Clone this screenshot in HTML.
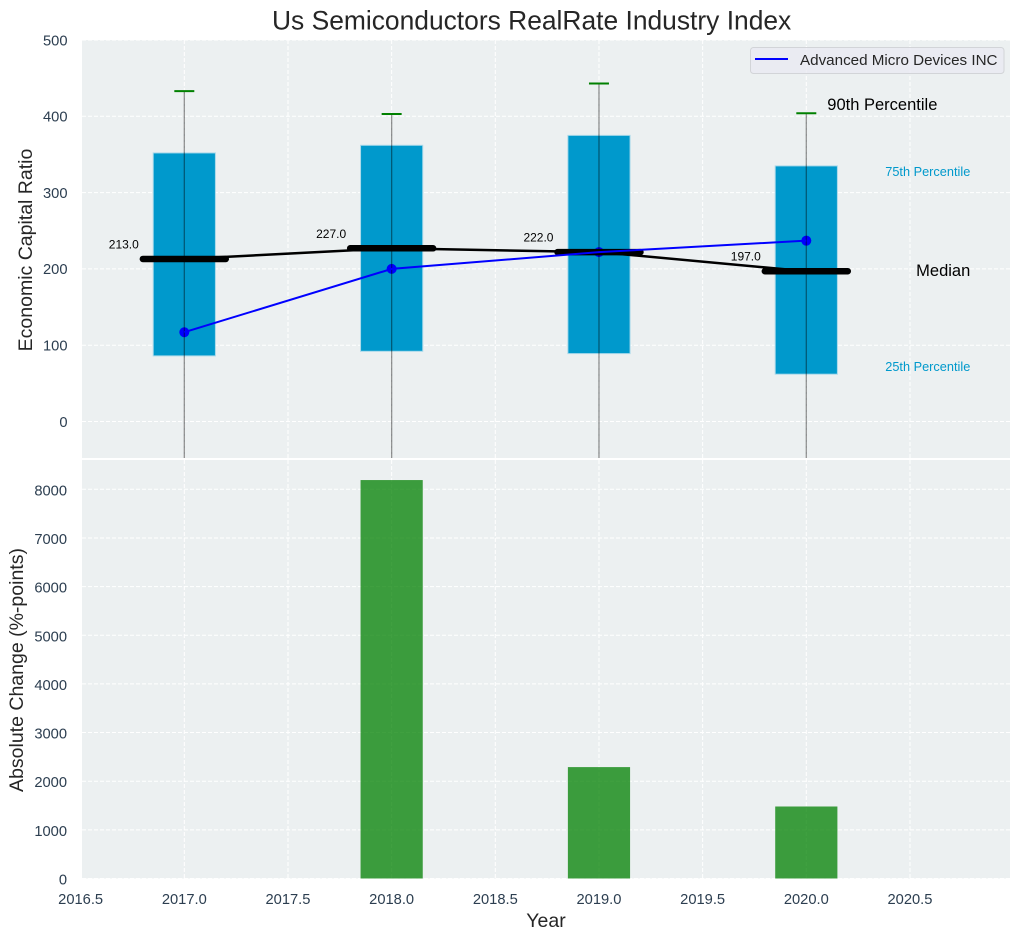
<!DOCTYPE html>
<html lang="en">
<head>
<meta charset="utf-8">
<title>Us Semiconductors RealRate Industry Index</title>
<style>
html,body{margin:0;padding:0;background:#fff;}
svg{display:block;font-family:"Liberation Sans",Arial,sans-serif;}
</style>
</head>
<body>
<svg id="chart" xmlns="http://www.w3.org/2000/svg" width="1020" height="940" viewBox="0 0 1020 940">
  <defs>
    <clipPath id="top-clip"><rect x="82" y="40" width="928" height="418"/></clipPath>
    <clipPath id="bottom-clip"><rect x="82" y="460" width="928" height="418.5"/></clipPath>
  </defs>
  <rect x="82" y="40" width="928" height="418" fill="#ecf0f1"/>
  <rect x="82" y="460" width="928" height="418.5" fill="#ecf0f1"/>
  <g id="top-grid" clip-path="url(#top-clip)"></g>
  <g id="bottom-grid" clip-path="url(#bottom-clip)"></g>
  <g id="top-marks" clip-path="url(#top-clip)"></g>
  <g id="bottom-marks" clip-path="url(#bottom-clip)"></g>
  <g id="labels"></g>
  <g id="ticks"></g>

  <text x="272" y="29.5" font-size="26.4" fill="#262626">Us Semiconductors RealRate Industry Index</text>
  <text transform="translate(32,250) rotate(-90)" text-anchor="middle" font-size="19.5" fill="#262626">Economic Capital Ratio</text>
  <text transform="translate(23,670) rotate(-90)" text-anchor="middle" font-size="19.5" fill="#262626">Absolute Change (%-points)</text>
  <text x="546" y="927" text-anchor="middle" font-size="19.5" fill="#262626">Year</text>

  <g>
    <rect x="750.5" y="47.5" width="253.5" height="26" rx="3" fill="#eaeaf2" fill-opacity="0.8" stroke="#d2d4d8" stroke-width="1"/>
    <line x1="755" x2="788" y1="59" y2="59" stroke="#0000ff" stroke-width="2"/>
    <text x="800" y="65" font-size="15.2" fill="#262626">Advanced Micro Devices INC</text>
  </g>
</svg>

<script>
const years = [2017, 2018, 2019, 2020];
const p90 = [433, 403, 443, 404];
const p75 = [352, 362, 375, 335];
const medians = [213, 227, 222, 197];
const p25 = [86, 92, 89, 62];
const p10 = [-60, -60, -60, -60];
const companyValues = [117, 200, 222, 237];
const changeYears = [2018, 2019, 2020];
const changeValues = [8190, 2290, 1480];
const xTicks = [2016.5, 2017, 2017.5, 2018, 2018.5, 2019, 2019.5, 2020, 2020.5];
const topYTicks = [0, 100, 200, 300, 400, 500];
const bottomYTicks = [0, 1000, 2000, 3000, 4000, 5000, 6000, 7000, 8000];

const NS = 'http://www.w3.org/2000/svg';
const X0 = 80.65, XK = 207.33;
const sx = function (v) { return X0 + (v - 2016.5) * XK; };
const sy = function (v) { return 421.5 - v * 0.763; };
const by = function (v) { return 878.5 - v * 0.04865; };
const BOX_W = 0.3, MED_W = 0.2;

function mk(parent, tag, attrs, text) {
  const el = document.createElementNS(NS, tag);
  Object.keys(attrs).forEach(function (k) { el.setAttribute(k, attrs[k]); });
  if (text !== undefined) el.textContent = text;
  document.getElementById(parent).appendChild(el);
  return el;
}

/* grid */
xTicks.forEach(function (t) {
  const a = mk('top-grid', 'line', {x1: sx(t), x2: sx(t), y1: 40, y2: 458, stroke: '#fff', 'stroke-width': 1, 'stroke-dasharray': '4 2'});
  
  
  const b = mk('bottom-grid', 'line', {x1: sx(t), x2: sx(t), y1: 460, y2: 878.5, stroke: '#fff', 'stroke-width': 1, 'stroke-dasharray': '4 2'});
  
  
  const l = mk('ticks', 'text', {x: sx(t), y: 904, 'text-anchor': 'middle', 'font-size': 14.7, fill: '#2c3e50'}, t.toFixed(1));
  
  
});
topYTicks.forEach(function (t) {
  const g = mk('top-grid', 'line', {x1: 82, x2: 1010, y1: sy(t), y2: sy(t), stroke: '#fff', 'stroke-width': 1, 'stroke-dasharray': '4 2'});
  
  
  const l = mk('ticks', 'text', {x: 67.5, y: sy(t) + 5.3, 'text-anchor': 'end', 'font-size': 14.7, fill: '#2c3e50'}, String(t));
  
  
});
bottomYTicks.forEach(function (t) {
  const g = mk('bottom-grid', 'line', {x1: 82, x2: 1010, y1: by(t), y2: by(t), stroke: '#fff', 'stroke-width': 1, 'stroke-dasharray': '4 2'});
  
  
  const l = mk('ticks', 'text', {x: 67, y: by(t) + 6, 'text-anchor': 'end', 'font-size': 14.7, fill: '#2c3e50'}, String(t));
  
  
});

/* boxes */
years.forEach(function (yr, i) {
  const box = mk('top-marks', 'rect', {x: sx(yr - BOX_W / 2), y: sy(p75[i]), width: sx(yr + BOX_W / 2) - sx(yr - BOX_W / 2), height: sy(p25[i]) - sy(p75[i]), fill: '#0099cc', stroke: '#a9d9ea', 'stroke-width': 1});
  
  
});

/* company points */
years.forEach(function (yr, i) {
  const dot = mk('top-marks', 'circle', {cx: sx(yr), cy: sy(companyValues[i]), r: 5, fill: '#0000ff'});
  
  
});

/* whiskers */
years.forEach(function (yr, i) {
  const w = mk('top-marks', 'line', {x1: sx(yr), x2: sx(yr), y1: sy(p90[i]), y2: sy(p10[i]), stroke: '#000', 'stroke-opacity': 0.42, 'stroke-width': 1.3});
  
  
  const c = mk('top-marks', 'line', {x1: sx(yr) - 10, x2: sx(yr) + 10, y1: sy(p90[i]), y2: sy(p90[i]), stroke: '#008000', 'stroke-width': 2});
  
  
});

/* medians */
const medPts = years.map(function (yr, i) { return sx(yr) + ',' + sy(medians[i]); }).join(' ');
const medLine = mk('top-marks', 'polyline', {points: medPts, fill: 'none', stroke: '#000', 'stroke-width': 2.5});


years.forEach(function (yr, i) {
  const m = mk('top-marks', 'line', {x1: sx(yr - MED_W), x2: sx(yr + MED_W), y1: sy(medians[i]), y2: sy(medians[i]), stroke: '#000', 'stroke-width': 6.5, 'stroke-linecap': 'round'});
  
  
  const t = mk('labels', 'text', {x: sx(yr) - 45.5, y: sy(medians[i]) - 10.5, 'text-anchor': 'end', 'font-size': 12, fill: '#000'}, medians[i].toFixed(1));
  
  
});

/* company line, above the median bars */
const bluePts = years.map(function (yr, i) { return sx(yr) + ',' + sy(companyValues[i]); }).join(' ');
const blueLine = mk('top-marks', 'polyline', {points: bluePts, fill: 'none', stroke: '#0000ff', 'stroke-width': 2});



/* percentile annotations on the last box */
const last = years.length - 1;
const lastYear = years[last];
const a90 = mk('labels', 'text', {x: sx(lastYear) + 21, y: sy(p90[last]) - 3, 'font-size': 16.5, fill: '#000'}, '90th Percentile');


const a75 = mk('labels', 'text', {x: sx(lastYear) + 164, y: sy(p75[last]) + 10, 'text-anchor': 'end', 'font-size': 12.75, fill: '#0099cc'}, '75th Percentile');


const aMed = mk('labels', 'text', {x: sx(lastYear) + 164, y: sy(medians[last]) + 5, 'text-anchor': 'end', 'font-size': 16.5, fill: '#000'}, 'Median');


const a25 = mk('labels', 'text', {x: sx(lastYear) + 164, y: sy(p25[last]) - 3, 'text-anchor': 'end', 'font-size': 12.75, fill: '#0099cc'}, '25th Percentile');



/* change bars */
changeYears.forEach(function (yr, i) {
  const b = mk('bottom-marks', 'rect', {x: sx(yr - BOX_W / 2), y: by(changeValues[i]), width: sx(yr + BOX_W / 2) - sx(yr - BOX_W / 2), height: by(0) - by(changeValues[i]), fill: '#008000', 'fill-opacity': 0.75});
  
  
});
</script>
</body>
</html>
